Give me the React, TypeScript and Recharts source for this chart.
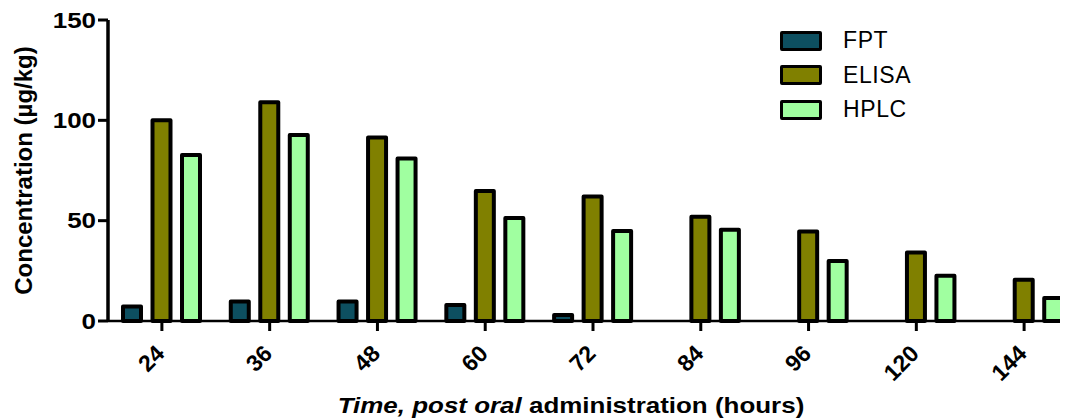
import React from "react"
import { Bar, BarChart, Label, Legend, XAxis, YAxis } from "recharts"

// hours after oral administration
const hours = ["24", "36", "48", "60", "72", "84", "96", "120", "144"]
const fpt = [7.2, 9.7, 9.7, 8.0, 3.0, null, null, null, null]
const elisa = [100, 109, 91.4, 64.8, 62, 52, 44.6, 34.1, 20.5]
const hplc = [82.7, 92.7, 81, 51.3, 44.8, 45.5, 29.9, 22.5, 11.5]
const yTicks = [0, 50, 100, 150]
const seriesOrder = ["FPT", "ELISA", "HPLC"]

const data = hours.map((h, i) => ({ hour: h, FPT: fpt[i], ELISA: elisa[i], HPLC: hplc[i] }))

const font = "'Liberation Sans', Arial, sans-serif"

// the source figure is a bit stretched sideways
const stretch = (cx: number) => `translate(${cx} 0) scale(1.18 1) translate(${-cx} 0)`

function XTick(props: any) {
  const { x, y, payload } = props
  return (
    <text
      x={x + 4}
      y={y + 22}
      transform={`rotate(-45 ${x + 4} ${y + 22})`}
      textAnchor="end"
      fontFamily={font}
      fontWeight="bold"
      fontSize={23}
      fill="#000"
    >
      {payload.value}
    </text>
  )
}

function YTick(props: any) {
  const { x, y, payload } = props
  return (
    <text
      x={x}
      y={y}
      dy="0.355em"
      transform={stretch(x)}
      textAnchor="end"
      fontFamily={font}
      fontWeight="bold"
      fontSize={22}
      fill="#000"
    >
      {payload.value}
    </text>
  )
}

function XTitle(props: any) {
  const vb = props.viewBox
  const cx = vb.x + vb.width / 2 - 22
  return (
    <text
      x={cx}
      y={405}
      transform={stretch(cx)}
      textAnchor="middle"
      fontFamily={font}
      fontWeight="bold"
      fontSize={22}
      fill="#000"
    >
      <tspan fontStyle="italic">Time, post oral</tspan>
      <tspan> administration (hours)</tspan>
    </text>
  )
}

function YTitle(props: any) {
  const vb = props.viewBox
  const cy = vb.y + vb.height / 2
  return (
    <text
      x={24}
      y={cy}
      transform={`rotate(-90 24 ${cy})`}
      textAnchor="middle"
      fontFamily={font}
      fontWeight="bold"
      fontSize={24}
      fill="#000"
    >
      Concentration (µg/kg)
    </text>
  )
}

function LegendBox(props: any) {
  const items = [...(props.payload || [])].sort(
    (a: any, b: any) => seriesOrder.indexOf(a.value) - seriesOrder.indexOf(b.value)
  )
  return (
    <div>
      {items.map((it: any) => (
        <div key={it.value} style={{ display: "flex", alignItems: "center", height: 34.5 }}>
          <div
            style={{
              boxSizing: "border-box",
              width: 42,
              height: 20,
              border: "3.5px solid #000",
              borderRadius: 2,
              background: it.color,
            }}
          />
          <span style={{ marginLeft: 21, fontFamily: font, fontSize: 23, letterSpacing: 0.6, color: "#000" }}>
            {it.value}
          </span>
        </div>
      ))}
    </div>
  )
}

export default function App() {
  return (
    <div style={{ width: 1060, height: 411, overflow: "hidden" }}>
      <BarChart
        width={1080}
        height={411}
        data={data}
        margin={{ top: 12, right: 10, left: 0, bottom: 0 }}
        barSize={18}
        barGap={11.5}
      >
        <XAxis
          dataKey="hour"
          height={98}
          tick={<XTick />}
          tickSize={10}
          axisLine={{ stroke: "#000", strokeWidth: 2.5 }}
          tickLine={{ stroke: "#000", strokeWidth: 3 }}
          interval={0}
        >
          <Label content={<XTitle />} />
        </XAxis>
        <YAxis
          width={100}
          domain={[0, 150]}
          ticks={yTicks}
          tickSize={10}
          axisLine={{ stroke: "#000", strokeWidth: 3.5 }}
          tickLine={{ stroke: "#000", strokeWidth: 3 }}
          tick={<YTick />}
        >
          <Label content={<YTitle />} />
        </YAxis>
        <Legend
          layout="horizontal"
          verticalAlign="middle"
          align="center"
          content={<LegendBox />}
          wrapperStyle={{ top: 15.5, left: 772, width: 200 }}
        />
        <Bar dataKey="FPT" fill="#0D4F60" stroke="#000" strokeWidth={4} strokeLinejoin="round" isAnimationActive={false} />
        <Bar dataKey="ELISA" fill="#808000" stroke="#000" strokeWidth={4} strokeLinejoin="round" isAnimationActive={false} />
        <Bar dataKey="HPLC" fill="#A0FFA0" stroke="#000" strokeWidth={4} strokeLinejoin="round" isAnimationActive={false} />
      </BarChart>
    </div>
  )
}
